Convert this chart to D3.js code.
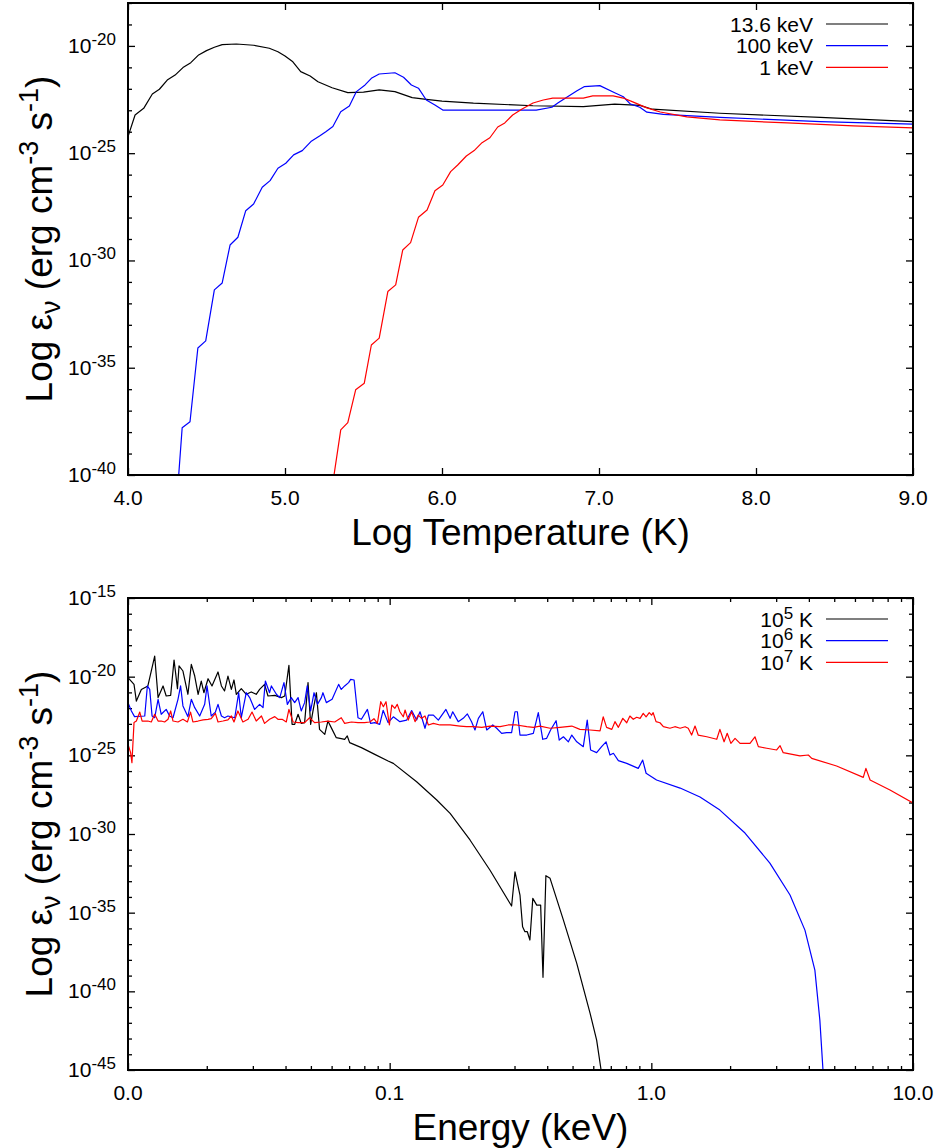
<!DOCTYPE html>
<html>
<head>
<meta charset="utf-8">
<script src="https://cdn.jsdelivr.net/npm/d3@7"></script>
<style>
  body { margin: 0; background: #fff; }
  svg text { font-family: "Liberation Sans", Arial, Helvetica, sans-serif; fill: #000; }
</style>
</head>
<body>
<svg id="chart" width="938" height="1148"></svg>
<script>
// ---- top panel: emissivity vs log temperature, three photon energies ----
const topLabels = ["13.6 keV", "100 keV", "1 keV"];
const seriesColors = ["#000000", "#0000ff", "#ff0000"];

const e136LogT = [4.00,4.045,4.10,4.155,4.20,4.25,4.30,4.35,4.40,4.45,4.50,4.55,4.60,4.69,4.80,4.90,4.955,5.00,5.05,5.10,
  5.16,5.21,5.30,5.40,5.50,5.60,5.70,5.81,5.90,6.00,6.20,6.58,6.90,7.10,7.26,7.34,7.77,8.41,9.00];
const e136Emis = [-24.23,-23.22,-22.91,-22.24,-22.02,-21.59,-21.36,-21.01,-20.78,-20.42,-20.22,-20.06,-19.94,-19.91,-19.97,-20.11,-20.27,-20.47,-20.74,-21.20,
  -21.40,-21.67,-21.95,-22.18,-22.15,-22.05,-22.13,-22.41,-22.49,-22.57,-22.67,-22.79,-22.83,-22.71,-22.77,-22.95,-23.14,-23.33,-23.53];

const e100LogT = [4.32,4.345,4.395,4.445,4.495,4.55,4.60,4.65,4.70,4.75,4.80,4.855,4.905,4.955,5.005,5.055,5.11,5.165,5.22,5.26,
  5.305,5.355,5.41,5.455,5.51,5.55,5.60,5.70,5.755,5.805,5.85,5.90,5.955,6.005,6.115,6.60,6.70,6.74,6.795,6.86,
  6.905,7.005,7.10,7.155,7.20,7.26,7.305,7.41,7.77,8.41,9.00];
const e100Emis = [-40.3,-37.80,-37.52,-34.08,-33.75,-31.37,-31.05,-29.28,-28.92,-27.68,-27.37,-26.59,-26.28,-25.70,-25.47,-25.08,-24.88,-24.46,-24.20,-24.00,
  -23.76,-23.07,-22.80,-22.13,-21.82,-21.51,-21.31,-21.25,-21.46,-21.82,-21.97,-22.52,-22.75,-22.99,-22.99,-22.99,-22.86,-22.65,-22.39,-22.09,
  -21.90,-21.85,-22.18,-22.37,-22.71,-22.86,-23.09,-23.19,-23.33,-23.53,-23.65];

const e1LogT = [5.30,5.355,5.40,5.45,5.505,5.55,5.60,5.655,5.705,5.75,5.80,5.85,5.905,5.955,6.005,6.055,6.10,6.155,6.205,6.255,
  6.305,6.355,6.40,6.45,6.51,6.58,6.645,6.705,6.80,6.90,6.96,7.09,7.155,7.215,7.305,7.39,7.56,7.77,8.20,8.62,9.00];
const e1Emis = [-40.6,-37.90,-37.56,-36.03,-35.72,-33.94,-33.62,-31.45,-31.14,-29.51,-29.17,-27.99,-27.65,-26.75,-26.48,-25.86,-25.55,-25.13,-24.88,-24.51,
  -24.28,-23.78,-23.59,-23.22,-22.94,-22.66,-22.52,-22.43,-22.43,-22.43,-22.33,-22.33,-22.43,-22.61,-22.89,-23.08,-23.31,-23.45,-23.59,-23.73,-23.82];

// ---- bottom panel: emissivity vs energy (log10 keV), three temperatures ----
const bottomLabels = [["10", "5", " K"], ["10", "6", " K"], ["10", "7", " K"]];

const t5LogE = [-2.000,-1.977,-1.968,-1.949,-1.924,-1.898,-1.885,-1.866,-1.854,-1.837,
  -1.824,-1.811,-1.805,-1.790,-1.771,-1.758,-1.745,-1.732,-1.720,-1.710,
  -1.694,-1.679,-1.656,-1.643,-1.631,-1.618,-1.605,-1.595,-1.586,-1.567,
  -1.548,-1.529,-1.510,-1.497,-1.478,-1.465,-1.439,-1.414,-1.401,-1.385,
  -1.373,-1.363,-1.350,-1.338,-1.325,-1.312,-1.302,-1.293,-1.280,-1.268,
  -1.248,-1.236,-1.220,-1.204,-1.185,-1.172,-1.162,-1.153,-1.108,-1.057,
  -1.006,-0.986,-0.897,-0.820,-0.769,-0.693,-0.617,-0.534,-0.521,-0.502,
  -0.492,-0.483,-0.474,-0.464,-0.453,-0.438,-0.423,-0.414,-0.403,-0.387,
  -0.336,-0.285,-0.234,-0.209,-0.192,-0.180];
const t5Emis = [-20.06,-20.49,-21.55,-20.81,-20.59,-18.69,-21.33,-20.59,-21.23,-21.19,
  -18.94,-20.76,-19.32,-19.64,-21.12,-19.22,-19.96,-21.12,-20.28,-21.02,
  -20.13,-20.59,-19.70,-20.59,-20.91,-19.96,-20.81,-20.21,-21.12,-20.76,
  -21.12,-20.97,-21.12,-20.81,-20.49,-21.23,-21.19,-21.33,-21.23,-19.28,
  -23.03,-23.03,-22.39,-22.97,-22.92,-20.38,-23.03,-22.18,-21.02,-23.35,
  -23.67,-22.82,-23.35,-23.88,-23.94,-23.98,-23.77,-24.19,-24.51,-24.94,
  -25.36,-25.51,-26.68,-27.84,-28.69,-30.38,-32.29,-34.58,-32.40,-33.88,
  -35.90,-36.21,-36.21,-36.74,-34.09,-34.52,-34.52,-39.11,-32.65,-32.82,
  -35.47,-38.22,-41.40,-43.10,-45.00,-46.5];

const t6LogE = [-2.000,-1.987,-1.975,-1.936,-1.926,-1.917,-1.908,-1.898,-1.885,-1.873,
  -1.854,-1.841,-1.828,-1.809,-1.799,-1.790,-1.771,-1.758,-1.745,-1.726,
  -1.707,-1.698,-1.682,-1.666,-1.656,-1.643,-1.631,-1.618,-1.592,-1.577,
  -1.567,-1.548,-1.535,-1.516,-1.497,-1.484,-1.475,-1.459,-1.452,-1.433,
  -1.420,-1.404,-1.391,-1.376,-1.363,-1.350,-1.338,-1.325,-1.315,-1.302,
  -1.289,-1.276,-1.261,-1.255,-1.242,-1.220,-1.195,-1.185,-1.172,-1.157,
  -1.149,-1.136,-1.121,-1.108,-1.085,-1.073,-1.057,-1.038,-1.025,-1.006,
  -0.986,-0.961,-0.935,-0.916,-0.897,-0.884,-0.865,-0.852,-0.833,-0.814,
  -0.785,-0.769,-0.759,-0.738,-0.719,-0.703,-0.687,-0.674,-0.661,-0.644,
  -0.629,-0.606,-0.591,-0.572,-0.553,-0.534,-0.521,-0.512,-0.502,-0.476,
  -0.451,-0.432,-0.415,-0.400,-0.385,-0.364,-0.352,-0.336,-0.317,-0.304,
  -0.285,-0.260,-0.245,-0.232,-0.209,-0.190,-0.173,-0.158,-0.145,-0.126,
  -0.094,-0.050,-0.033,-0.020,0.020,0.110,0.186,0.262,0.358,0.453,
  0.530,0.587,0.625,0.644,0.656,0.660];
const t6Emis = [-21.65,-22.18,-22.54,-22.50,-20.59,-20.81,-22.50,-22.61,-21.44,-22.39,
  -22.08,-22.50,-22.61,-21.44,-20.59,-21.86,-22.54,-21.44,-21.97,-22.50,
  -21.76,-20.59,-22.50,-22.25,-21.76,-22.50,-22.61,-22.50,-22.61,-21.02,
  -22.61,-21.02,-21.33,-22.08,-21.76,-21.97,-20.28,-21.02,-20.59,-21.12,
  -21.33,-20.38,-21.76,-21.33,-21.65,-21.33,-22.18,-21.65,-20.59,-22.18,
  -21.02,-21.76,-21.33,-21.02,-21.65,-21.44,-20.49,-20.81,-20.59,-20.38,
  -20.17,-20.21,-22.61,-22.71,-22.08,-22.97,-22.92,-23.03,-22.14,-22.92,
  -22.55,-22.86,-22.76,-22.16,-22.76,-22.23,-23.28,-22.44,-22.44,-22.76,
  -22.08,-22.65,-22.23,-22.86,-22.65,-22.37,-22.86,-23.39,-22.65,-22.23,
  -23.39,-23.07,-23.28,-23.60,-23.56,-23.56,-22.23,-22.23,-23.71,-23.71,
  -23.60,-22.29,-23.98,-23.92,-23.39,-22.80,-24.03,-23.82,-24.14,-23.71,
  -24.14,-24.45,-22.76,-24.66,-24.83,-24.45,-24.14,-24.98,-24.87,-25.34,
  -25.51,-25.83,-25.30,-26.14,-26.57,-27.08,-27.65,-28.48,-29.94,-31.85,
  -33.88,-36.11,-38.65,-41.83,-45.0,-46.3];

const t7LogE = [-2.000,-1.990,-1.985,-1.977,-1.968,-1.955,-1.946,-1.924,-1.911,-1.898,
  -1.885,-1.873,-1.860,-1.847,-1.837,-1.828,-1.809,-1.790,-1.773,-1.761,
  -1.752,-1.732,-1.713,-1.694,-1.682,-1.666,-1.656,-1.637,-1.618,-1.605,
  -1.595,-1.580,-1.561,-1.541,-1.526,-1.510,-1.490,-1.478,-1.459,-1.439,
  -1.427,-1.411,-1.395,-1.385,-1.369,-1.350,-1.325,-1.306,-1.287,-1.261,
  -1.236,-1.210,-1.185,-1.172,-1.146,-1.121,-1.096,-1.076,-1.060,-1.047,
  -1.034,-1.024,-1.014,-1.001,-0.992,-0.980,-0.971,-0.961,-0.948,-0.941,
  -0.929,-0.916,-0.903,-0.891,-0.878,-0.865,-0.852,-0.833,-0.808,-0.769,
  -0.731,-0.706,-0.680,-0.648,-0.617,-0.578,-0.547,-0.515,-0.476,-0.451,
  -0.425,-0.387,-0.349,-0.304,-0.273,-0.234,-0.196,-0.184,-0.171,-0.151,
  -0.139,-0.126,-0.109,-0.094,-0.082,-0.069,-0.056,-0.043,-0.031,-0.020,
  -0.008,0.001,0.007,0.018,0.033,0.046,0.071,0.090,0.110,0.129,
  0.141,0.154,0.167,0.179,0.212,0.250,0.262,0.278,0.290,0.304,
  0.320,0.339,0.377,0.396,0.409,0.441,0.479,0.492,0.504,0.568,
  0.600,0.613,0.708,0.810,0.820,0.836,0.912,1.000];
const t7Emis = [-24.30,-24.83,-25.47,-22.92,-22.82,-22.25,-22.82,-22.82,-22.88,-22.39,
  -22.82,-22.82,-22.88,-22.71,-22.18,-22.82,-22.88,-22.71,-22.88,-22.25,
  -22.88,-22.82,-22.75,-22.71,-22.67,-22.33,-22.88,-22.82,-22.75,-22.50,
  -22.88,-22.18,-22.88,-22.71,-22.25,-22.82,-22.50,-22.97,-22.71,-22.54,
  -22.71,-22.71,-22.88,-22.08,-22.88,-22.92,-22.92,-22.61,-22.92,-22.88,
  -22.82,-22.88,-22.61,-22.97,-22.88,-22.92,-22.92,-22.88,-22.67,-22.97,
  -21.59,-21.91,-21.59,-23.07,-21.80,-22.01,-21.76,-22.23,-22.55,-22.12,
  -22.76,-22.23,-22.86,-22.44,-22.65,-22.50,-23.07,-22.97,-23.07,-23.07,
  -23.14,-23.18,-23.18,-23.22,-23.14,-23.18,-23.07,-23.07,-23.18,-23.22,
  -23.14,-23.28,-23.22,-23.14,-23.35,-23.39,-23.44,-22.55,-23.22,-23.35,
  -22.86,-23.22,-22.65,-22.93,-22.50,-22.71,-22.58,-22.65,-22.33,-22.55,
  -22.29,-22.44,-22.29,-22.86,-22.93,-23.18,-23.28,-23.18,-23.28,-23.18,
  -23.28,-23.71,-23.14,-23.71,-23.82,-23.98,-23.35,-24.14,-23.60,-24.24,
  -23.92,-24.24,-24.24,-23.82,-24.45,-24.55,-24.66,-24.39,-24.83,-25.04,
  -24.98,-25.19,-25.68,-26.40,-25.83,-26.57,-27.2,-28.03];

// axis ticks
const topXTicks = [4, 5, 6, 7, 8, 9];
const topYMajor = [-40, -35, -30, -25, -20];
const bottomXTicks = [0.01, 0.1, 1, 10];
const bottomYMajor = [-45, -40, -35, -30, -25, -20, -15];

const svg = d3.select("#chart");
const left = 128, right = 913;
const fmt = d3.format(".1f");

function drawPanel(top, bottom, x, yLo, yHi, xMajor, xMinor, yMajor, xTitle, series, legend, id) {
  const y = d3.scaleLog().domain([Math.pow(10, yLo), Math.pow(10, yHi)]).range([bottom, top]);
  let yMinor = d3.range(yLo, yHi + 1).filter(d => yMajor.indexOf(d) < 0).map(d => Math.pow(10, d));
  let yMaj = yMajor.map(d => Math.pow(10, d));

  svg.append("clipPath").attr("id", id).append("rect")
    .attr("x", left).attr("y", top).attr("width", right - left).attr("height", bottom - top);

  // ticks on all four sides, pointing inward
  const addAxis = (axis, tx, ty) => {
    let g = svg.append("g").attr("transform", "translate(" + tx + "," + ty + ")").call(axis);
    g.select(".domain").remove();
    g.selectAll("text").remove();
    g.selectAll("line").attr("stroke", "#000").attr("stroke-width", 1.3);
  };
  addAxis(d3.axisBottom(x).tickValues(xMajor).tickSize(-7).tickSizeOuter(0), 0, bottom);
  addAxis(d3.axisTop(x).tickValues(xMajor).tickSize(-7).tickSizeOuter(0), 0, top);
  addAxis(d3.axisLeft(y).tickValues(yMaj).tickSize(-7).tickSizeOuter(0), left, 0);
  addAxis(d3.axisRight(y).tickValues(yMaj).tickSize(-7).tickSizeOuter(0), right, 0);
  addAxis(d3.axisLeft(y).tickValues(yMinor).tickSize(-4).tickSizeOuter(0), left, 0);
  addAxis(d3.axisRight(y).tickValues(yMinor).tickSize(-4).tickSizeOuter(0), right, 0);
  if (xMinor.length) {
    addAxis(d3.axisBottom(x).tickValues(xMinor).tickSize(-4).tickSizeOuter(0), 0, bottom);
    addAxis(d3.axisTop(x).tickValues(xMinor).tickSize(-4).tickSizeOuter(0), 0, top);
  }

  // x tick labels
  svg.append("g").selectAll("text").data(xMajor).enter().append("text")
    .attr("x", d => x(d)).attr("y", bottom + 30)
    .attr("text-anchor", "middle").attr("font-size", 21)
    .text(d => fmt(d));

  // y tick labels 10^n
  yMajor.forEach(p => {
    let t = svg.append("text").attr("x", left - 12).attr("y", y(Math.pow(10, p)) + 7)
      .attr("text-anchor", "end").attr("font-size", 21);
    t.append("tspan").text("10");
    t.append("tspan").attr("font-size", 17).attr("dy", -8).text(p);
  });

  // data lines
  const line = d3.line().x(d => x(d[0])).y(d => y(d[1]));
  const plot = svg.append("g").attr("clip-path", "url(#" + id + ")");
  series.forEach((s, i) => {
    plot.append("path").datum(s)
      .attr("fill", "none").attr("stroke", seriesColors[i])
      .attr("stroke-width", 1.2).attr("stroke-linejoin", "round")
      .attr("d", line);
  });

  // border
  svg.append("rect").attr("x", left).attr("y", top).attr("width", right - left).attr("height", bottom - top)
    .attr("fill", "none").attr("stroke", "#000").attr("stroke-width", 2);

  // legend
  legend.forEach((lab, i) => {
    let ly = top + 21 + i * 21.7;
    let t = svg.append("text").attr("x", 813).attr("y", ly + 7.5)
      .attr("text-anchor", "end").attr("font-size", 21);
    if (typeof lab === "string") {
      t.text(lab);
    } else {
      t.append("tspan").text(lab[0]);
      t.append("tspan").attr("font-size", 17).attr("dy", -8).text(lab[1]);
      t.append("tspan").attr("dy", 8).text(lab[2]);
    }
    svg.append("line").attr("x1", 826).attr("x2", 888).attr("y1", ly).attr("y2", ly)
      .attr("stroke", seriesColors[i]).attr("stroke-width", 1.2);
  });

  // axis titles
  svg.append("text").attr("x", (left + right) / 2).attr("y", bottom + 70)
    .attr("text-anchor", "middle").attr("font-size", 37).text(xTitle);

  let yt = svg.append("text")
    .attr("transform", "translate(52," + (top + bottom) / 2 + ") rotate(-90)")
    .attr("text-anchor", "middle").attr("font-size", 37);
  yt.append("tspan").text("Log \u03b5");
  yt.append("tspan").attr("font-size", 27).attr("dy", 8).text("\u03bd");
  yt.append("tspan").attr("dy", -8).text(" (erg cm");
  yt.append("tspan").attr("font-size", 27).attr("dy", -14).text("-3");
  yt.append("tspan").attr("dy", 14).text(" s");
  yt.append("tspan").attr("font-size", 27).attr("dy", -14).text("-1");
  yt.append("tspan").attr("dy", 14).text(")");
}

const toPow = (xs, ys) => d3.zip(xs, ys.map(v => Math.pow(10, v)));
const toPowE = (xs, ys) => d3.zip(xs.map(v => Math.pow(10, v)), ys.map(v => Math.pow(10, v)));

// top panel
const xTop = d3.scaleLinear().domain([4, 9]).range([left, right]);
drawPanel(3, 475, xTop, -40, -18, topXTicks, [], topYMajor, "Log Temperature (K)",
  [toPow(e136LogT, e136Emis), toPow(e100LogT, e100Emis), toPow(e1LogT, e1Emis)], topLabels, "clipTop");

// bottom panel
const xBot = d3.scaleLog().domain([0.01, 10]).range([left, right]);
const botMinor = [];
[0.01, 0.1, 1].forEach(dec => { for (let k = 2; k <= 9; k++) botMinor.push(dec * k); });
drawPanel(598, 1070, xBot, -45, -15, bottomXTicks, botMinor, bottomYMajor, "Energy (keV)",
  [toPowE(t5LogE, t5Emis), toPowE(t6LogE, t6Emis), toPowE(t7LogE, t7Emis)], bottomLabels, "clipBot");
</script>
</body>
</html>
